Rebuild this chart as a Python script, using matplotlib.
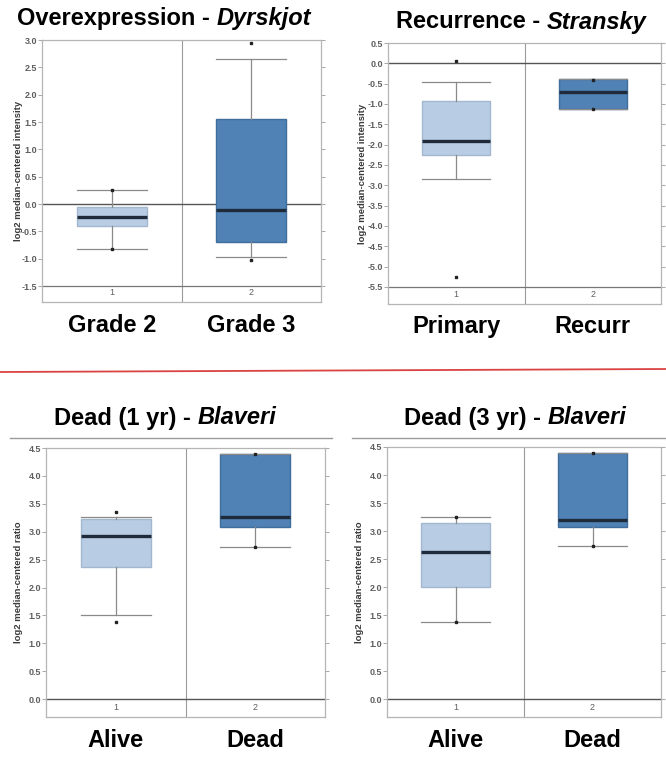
import matplotlib
matplotlib.use("Agg")
import matplotlib.pyplot as plt
from matplotlib.transforms import blended_transform_factory

plt.rcParams['font.family'] = ['Liberation Sans', 'DejaVu Sans']

# ---- data ----
p1_title = ("Overexpression - ", "Dyrskjot")
p1_groups = ["Grade 2", "Grade 3"]
p1_ticks = ["1", "2"]
p1_ylabel = "log2 median-centered intensity"
p1_whislo = [-0.82, -0.97]
p1_q1 = [-0.40, -0.70]
p1_med = [-0.23, -0.10]
p1_q3 = [-0.05, 1.55]
p1_whishi = [0.25, 2.65]
p1_fliers = [[0.25, -0.82], [2.95, -1.02]]
p1_yticks = [-1.5, -1.0, -0.5, 0.0, 0.5, 1.0, 1.5, 2.0, 2.5, 3.0]

p2_title = ("Recurrence - ", "Stransky")
p2_groups = ["Primary", "Recurr"]
p2_ticks = ["1", "2"]
p2_ylabel = "log2 median-centered intensity"
p2_whislo = [-2.85, -1.12]
p2_q1 = [-2.25, -1.12]
p2_med = [-1.90, -0.70]
p2_q3 = [-0.92, -0.38]
p2_whishi = [-0.47, -0.38]
p2_fliers = [[0.05, -5.25], [-0.40, -1.12]]
p2_yticks = [-5.5, -5.0, -4.5, -4.0, -3.5, -3.0, -2.5, -2.0, -1.5, -1.0, -0.5, 0.0, 0.5]

p3_title = ("Dead (1 yr) - ", "Blaveri")
p3_groups = ["Alive", "Dead"]
p3_ticks = ["1", "2"]
p3_ylabel = "log2 median-centered ratio"
p3_whislo = [1.50, 2.73]
p3_q1 = [2.37, 3.08]
p3_med = [2.92, 3.27]
p3_q3 = [3.22, 4.40]
p3_whishi = [3.27, 4.40]
p3_fliers = [[3.35, 1.38], [4.40, 2.73]]
p3_yticks = [0.0, 0.5, 1.0, 1.5, 2.0, 2.5, 3.0, 3.5, 4.0, 4.5]

p4_title = ("Dead (3 yr) - ", "Blaveri")
p4_groups = ["Alive", "Dead"]
p4_ticks = ["1", "2"]
p4_ylabel = "log2 median-centered ratio"
p4_whislo = [1.38, 2.73]
p4_q1 = [2.00, 3.08]
p4_med = [2.62, 3.20]
p4_q3 = [3.15, 4.40]
p4_whishi = [3.25, 4.40]
p4_fliers = [[3.25, 1.38], [4.40, 2.73]]
p4_yticks = [0.0, 0.5, 1.0, 1.5, 2.0, 2.5, 3.0, 3.5, 4.0, 4.5]

LIGHT = "#b8cde4"
LIGHT_EDGE = "#a3b8cf"
DARK = "#5082b6"
DARK_EDGE = "#3f6d9c"
MED = "#1f2b3b"
WHISK = "#8a8a8a"
SPINE = "#b5b5b5"
TICKC = "#5e5e5e"

W, H = 666, 758
fig = plt.figure(figsize=(W / 100, H / 100), dpi=100)


def axrect(l, r, t, b):
    return [l / W, (H - b) / H, (r - l) / W, (b - t) / H]


def panel(rect, ylim, yticks, base, zero, whislo, q1, med, q3, whishi, fliers,
          ticks, groups, ylabel, ylabel_x):
    ax = fig.add_axes(rect)
    stats = []
    for i in range(2):
        stats.append(dict(whislo=whislo[i], q1=q1[i], med=med[i], q3=q3[i],
                          whishi=whishi[i], fliers=fliers[i]))
    bp = ax.bxp(stats, positions=[1, 2], widths=0.5, capwidths=0.5,
                patch_artist=True, showfliers=True,
                medianprops=dict(color=MED, linewidth=2.4),
                whiskerprops=dict(color=WHISK, linewidth=0.9),
                capprops=dict(color=WHISK, linewidth=0.9),
                flierprops=dict(marker='s', markersize=1.6,
                                markerfacecolor='#222222',
                                markeredgecolor='#222222'))
    for patch, fc, ec in zip(bp['boxes'], [LIGHT, DARK], [LIGHT_EDGE, DARK_EDGE]):
        patch.set_facecolor(fc)
        patch.set_edgecolor(ec)
        patch.set_linewidth(1.0)
    ax.set_xlim(0.5, 2.5)
    ax.set_ylim(*ylim)
    ax.axvline(1.5, color="#9a9a9a", linewidth=0.8, zorder=0)
    ax.axhline(zero, color="#555555", linewidth=1.0, zorder=1)
    if base != zero:
        ax.axhline(base, color="#777777", linewidth=0.9, zorder=1)
    ax.set_yticks(yticks)
    ax.set_yticklabels([f"{v:.1f}" for v in yticks], fontsize=6.5,
                       color=TICKC, fontweight='bold')
    ax.tick_params(axis='y', which='both', left=True, right=True,
                   direction='out', length=3, width=0.6, color="#999999", pad=0.5)
    ax.set_xticks([1, 2])
    ax.set_xticklabels(ticks, fontsize=6.5, color=TICKC)
    ax.tick_params(axis='x', length=0, direction='in', pad=-10)
    for s in ax.spines.values():
        s.set_color(SPINE)
        s.set_linewidth(0.9)
    ax.text(ylabel_x, 0.5, ylabel, rotation=90, transform=ax.transAxes,
            ha='center', va='center', fontsize=6.8, fontweight='bold',
            color="#3a3a3a")
    tr = blended_transform_factory(ax.transData, ax.transAxes)
    for x, g in zip([1, 2], groups):
        ax.text(x, -0.088, g, transform=tr, ha='center', va='center',
                fontsize=17, fontweight='bold', color="black")
    return ax


panel(axrect(42, 321, 40, 302), (-1.79, 3.0), p1_yticks, -1.5, 0.0,
      p1_whislo, p1_q1, p1_med, p1_q3, p1_whishi, p1_fliers,
      p1_ticks, p1_groups, p1_ylabel, -0.085)
panel(axrect(388, 661, 43, 304), (-5.92, 0.5), p2_yticks, -5.5, 0.0,
      p2_whislo, p2_q1, p2_med, p2_q3, p2_whishi, p2_fliers,
      p2_ticks, p2_groups, p2_ylabel, -0.095)
panel(axrect(46, 325, 448, 717), (-0.32, 4.5), p3_yticks, 0.0, 0.0,
      p3_whislo, p3_q1, p3_med, p3_q3, p3_whishi, p3_fliers,
      p3_ticks, p3_groups, p3_ylabel, -0.1)
panel(axrect(387, 661, 447, 717), (-0.32, 4.5), p4_yticks, 0.0, 0.0,
      p4_whislo, p4_q1, p4_med, p4_q3, p4_whishi, p4_fliers,
      p4_ticks, p4_groups, p4_ylabel, -0.1)

# titles with bold + bold italic parts
renderer = fig.canvas.get_renderer()


def title(parts, cx, cy, size):
    t1 = fig.text(0, (H - cy) / H, parts[0], fontsize=size, fontweight='bold',
                  ha='left', va='center')
    t2 = fig.text(0, (H - cy) / H, parts[1], fontsize=size, fontweight='bold',
                  style='italic', ha='left', va='center')
    w1 = t1.get_window_extent(renderer).width
    w2 = t2.get_window_extent(renderer).width
    x0 = cx - (w1 + w2) / 2
    t1.set_x(x0 / W)
    t2.set_x((x0 + w1) / W)


title(p1_title, 164, 18, 17)
title(p2_title, 521, 22, 17)
title(p3_title, 165, 418, 17)
title(p4_title, 515, 418, 17)

# separators
fig.add_artist(plt.Line2D([0, 1], [(H - 372) / H, (H - 369) / H],
                          color="#d94343", linewidth=1.3))
fig.add_artist(plt.Line2D([10 / W, 332 / W], [(H - 438) / H] * 2,
                          color="#9a9a9a", linewidth=1.0))
fig.add_artist(plt.Line2D([352 / W, 1], [(H - 438) / H] * 2,
                          color="#9a9a9a", linewidth=1.0))

fig.savefig("out.png", dpi=100, facecolor="white")
